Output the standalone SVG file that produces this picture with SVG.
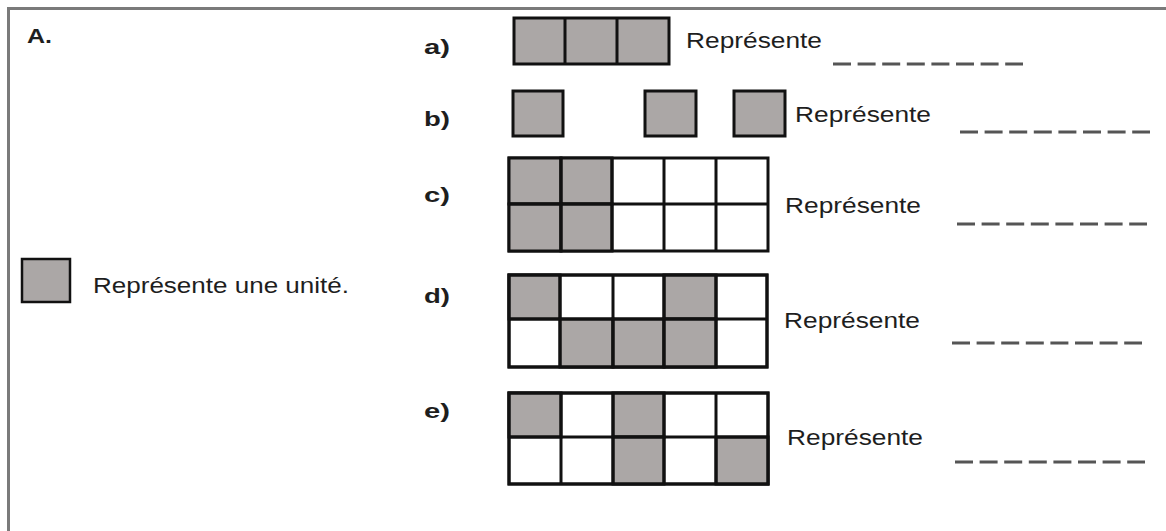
<svg xmlns="http://www.w3.org/2000/svg" width="1166" height="531" viewBox="0 0 1166 531">
<style>
  .frame{fill:none;stroke:#7a7a7a;stroke-width:3}
  .g{fill:#aba7a6;stroke:#111;stroke-width:3}
  .w{fill:#fff;stroke:#111;stroke-width:3}
  .grid{fill:none;stroke:#111;stroke-width:3}
  .t{font-family:"Liberation Sans",Arial,sans-serif;font-size:22.5px;fill:#1e1e1e}
  .lbl{font-family:"Liberation Sans",Arial,sans-serif;font-size:21px;font-weight:bold;fill:#1e1e1e}
  .dash{stroke:#555;stroke-width:3;stroke-dasharray:18 6.6;fill:none}
</style>
<rect width="1166" height="531" fill="#fff"/>
<g id="frame">
  <path class="frame" d="M8.5 531 V8.5 H1166"/>
  <text class="lbl" x="27" y="43" textLength="25" lengthAdjust="spacingAndGlyphs">A.</text>
</g>
<g id="legend">
  <rect class="g" x="22" y="259" width="48" height="43" style="stroke-width:2.5"/>
  <text class="t" x="93" y="293" textLength="256" lengthAdjust="spacingAndGlyphs">Représente une unité.</text>
</g>
<g id="item-a">
  <text class="lbl" x="424" y="54" textLength="26" lengthAdjust="spacingAndGlyphs">a)</text>
  <rect class="g" x="514" y="18" width="155" height="46"/>
  <path class="grid" d="M565 18 V64 M617 18 V64"/>
  <text class="t" x="686" y="48" textLength="136" lengthAdjust="spacingAndGlyphs">Représente</text>
  <line class="dash" x1="833" y1="64" x2="1023" y2="64"/>
</g>
<g id="item-b">
  <text class="lbl" x="424" y="126" textLength="26" lengthAdjust="spacingAndGlyphs">b)</text>
  <rect class="g" x="513" y="91" width="50" height="45"/>
  <rect class="g" x="645" y="91" width="51" height="45"/>
  <rect class="g" x="734" y="91" width="51" height="45"/>
  <text class="t" x="795" y="122" textLength="136" lengthAdjust="spacingAndGlyphs">Représente</text>
  <line class="dash" x1="960" y1="132" x2="1150" y2="132"/>
</g>
<g id="item-c">
  <text class="lbl" x="424" y="202" textLength="26" lengthAdjust="spacingAndGlyphs">c)</text>
  <rect class="w" x="509" y="158" width="259" height="93"/>
  <rect class="g" x="509" y="158" width="52" height="46"/>
  <rect class="g" x="561" y="158" width="51" height="46"/>
  <rect class="g" x="509" y="204" width="52" height="47"/>
  <rect class="g" x="561" y="204" width="51" height="47"/>
  <path class="grid" d="M509 204 H768 M561 158 V251 M612 158 V251 M664 158 V251 M716 158 V251"/>
  <text class="t" x="785" y="213" textLength="136" lengthAdjust="spacingAndGlyphs">Représente</text>
  <line class="dash" x1="957" y1="224" x2="1147" y2="224"/>
</g>
<g id="item-d">
  <text class="lbl" x="424" y="303" textLength="26" lengthAdjust="spacingAndGlyphs">d)</text>
  <rect class="w" x="509" y="275" width="258" height="92"/>
  <rect class="g" x="509" y="275" width="51" height="44"/>
  <rect class="g" x="664" y="275" width="52" height="44"/>
  <rect class="g" x="560" y="319" width="53" height="48"/>
  <rect class="g" x="613" y="319" width="51" height="48"/>
  <rect class="g" x="664" y="319" width="52" height="48"/>
  <path class="grid" d="M509 275 H767 V367 H509 Z M509 319 H767 M560 275 V367 M613 275 V367 M664 275 V367 M716 275 V367"/>
  <text class="t" x="784" y="328" textLength="136" lengthAdjust="spacingAndGlyphs">Représente</text>
  <line class="dash" x1="952" y1="343" x2="1142" y2="343"/>
</g>
<g id="item-e">
  <text class="lbl" x="424" y="418" textLength="26" lengthAdjust="spacingAndGlyphs">e)</text>
  <rect class="w" x="509" y="393" width="259" height="91"/>
  <rect class="g" x="509" y="393" width="52" height="44"/>
  <rect class="g" x="613" y="393" width="51" height="44"/>
  <rect class="g" x="613" y="437" width="51" height="47"/>
  <rect class="g" x="716" y="437" width="52" height="47"/>
  <path class="grid" d="M509 393 H768 V484 H509 Z M509 437 H768 M561 393 V484 M613 393 V484 M664 393 V484 M716 393 V484"/>
  <text class="t" x="787" y="445" textLength="136" lengthAdjust="spacingAndGlyphs">Représente</text>
  <line class="dash" x1="955" y1="462" x2="1145" y2="462"/>
</g>
</svg>
